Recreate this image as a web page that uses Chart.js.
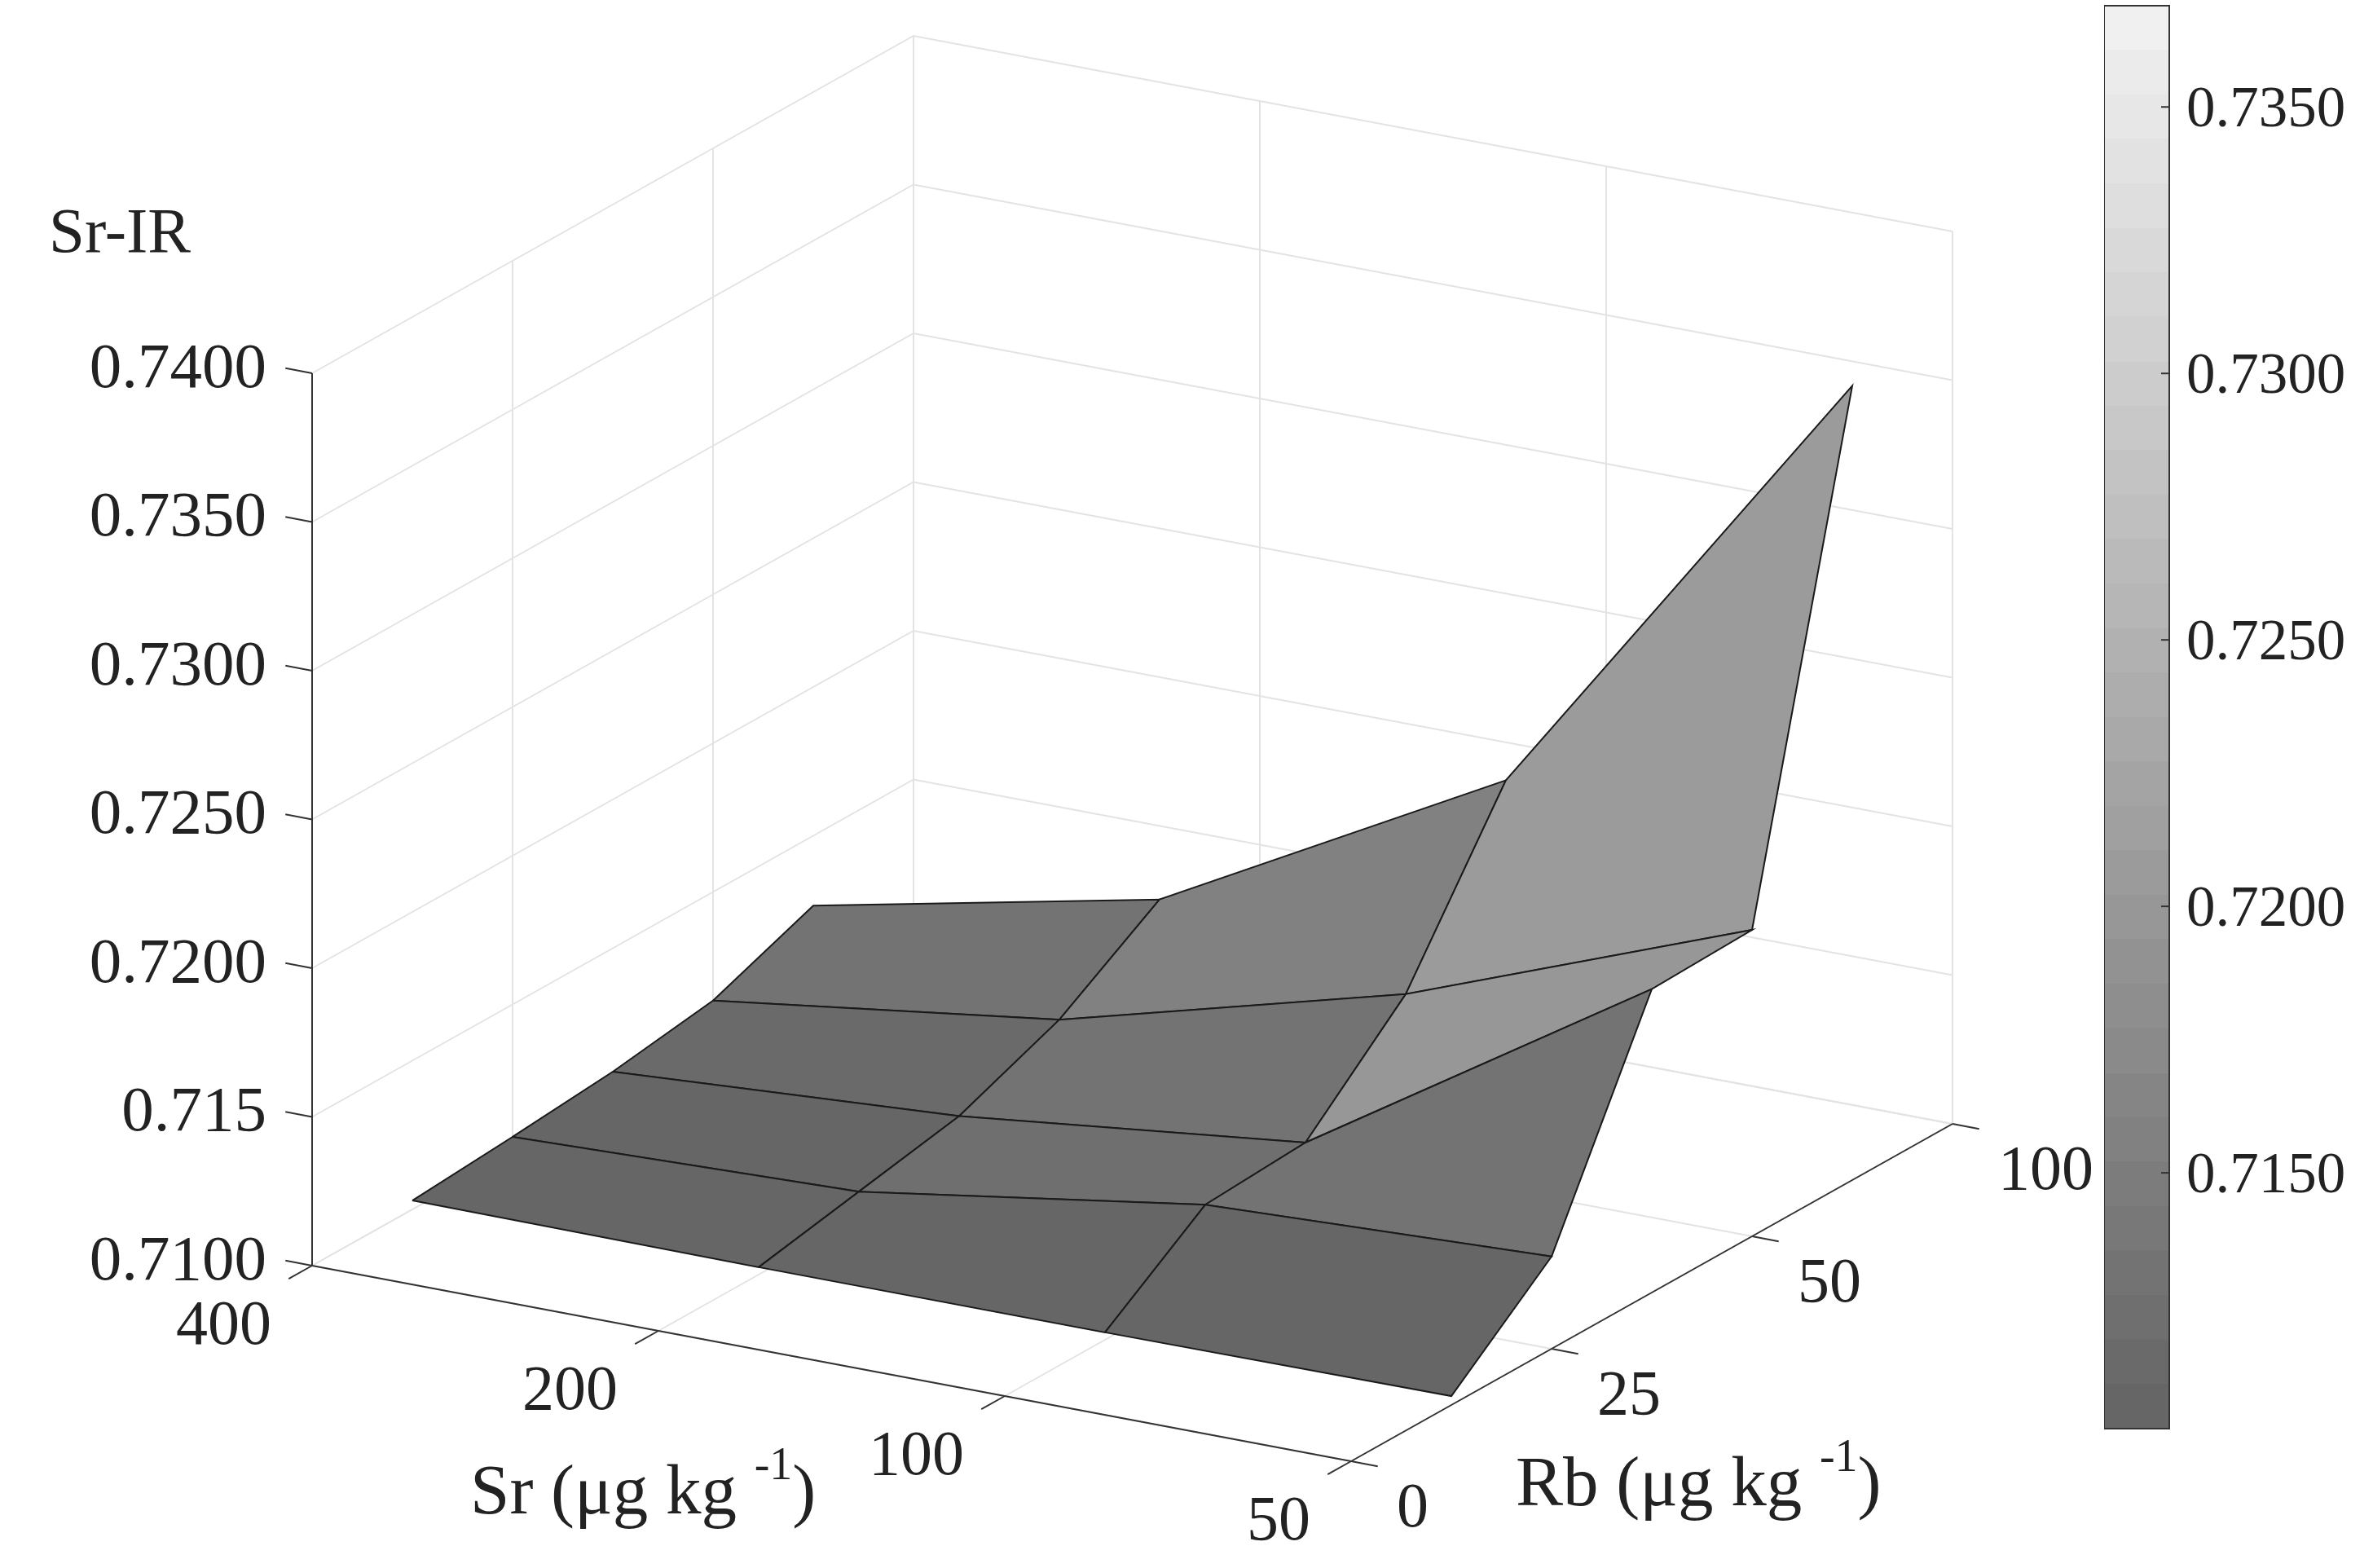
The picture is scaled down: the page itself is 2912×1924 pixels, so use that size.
<!DOCTYPE html>
<html>
<head>
<meta charset="utf-8">
<title>Sr-IR surface</title>
<script src="https://cdn.jsdelivr.net/npm/chart.js@4/dist/chart.umd.min.js"></script>
<style>
  html, body { margin: 0; padding: 0; background: #fff; }
  canvas { position: absolute; top: 0; }
  #surface { left: 0; }
  #colorbar { left: 2582px; }
</style>
</head>
<body>
<canvas id="surface" width="2912" height="1924"></canvas>
<canvas id="colorbar" width="330" height="1924"></canvas>
<script>
// data
const srLabels = ['400', '200', '100', '50'];
const rbLabels = ['0', '25', '50', '100'];
const zTicks = [0.71, 0.715, 0.72, 0.725, 0.73, 0.735, 0.74];
const zLabels = ['0.7100', '0.715', '0.7200', '0.7250', '0.7300', '0.7350', '0.7400'];
const rbSamples = [0.5, 1, 1.5, 2, 2.5]; // surface rows sit between the Rb ticks
const srRow400 = [0.7103, 0.71055, 0.71085, 0.71135, 0.71265];
const srRow200 = [0.71025, 0.7109, 0.71155, 0.7129, 0.71505];
const srRow100 = [0.71025, 0.71265, 0.71285, 0.71595, 0.72125];
const srRow50 = [0.7103, 0.7131, 0.7202, 0.7203, 0.7367];
const cbTicks = [0.715, 0.72, 0.725, 0.73, 0.735];
const cbMin = 0.7102;
const cbMax = 0.7369;
const grayLevels = [102, 106, 111, 115, 120, 124, 129, 133, 138, 142, 146, 151, 155, 160, 164, 169,
  173, 177, 182, 186, 191, 195, 200, 204, 209, 213, 217, 222, 226, 231, 235, 240];

const zGrid = [srRow400, srRow200, srRow100, srRow50];
const serif = 'Liberation Serif';
const inkColor = '#222222';
const gridColor = '#e3e3e3';

// 3D view: sr and rb are tick indexes, z is the real value
function project(sr, rb, z) {
  return {
    x: 383 + 425 * sr + 246 * rb,
    y: 1553 + 80 * sr - 138 * rb - (z - 0.71) * 36500
  };
}

function grayFor(z) {
  let k = Math.floor((z - cbMin) / (cbMax - cbMin) * grayLevels.length);
  k = Math.max(0, Math.min(grayLevels.length - 1, k));
  const g = grayLevels[k];
  return `rgb(${g},${g},${g})`;
}

function lineSet(points, color, width) {
  return { data: points, showLine: true, borderColor: color, borderWidth: width, pointRadius: 0, fill: false };
}

const zLow = zTicks[0];
const zHigh = zTicks[zTicks.length - 1];
const last = srLabels.length - 1;
const backToFront = [];

// light walls and floor
zTicks.forEach(z => {
  backToFront.push(lineSet([project(0, 0, z), project(0, last, z), project(last, last, z)], gridColor, 2));
});
srLabels.forEach((s, i) => {
  backToFront.push(lineSet([project(i, 0, zLow), project(i, last, zLow), project(i, last, zHigh)], gridColor, 2));
});
rbLabels.forEach((s, j) => {
  backToFront.push(lineSet([project(last, j, zLow), project(0, j, zLow), project(0, j, zHigh)], gridColor, 2));
});

// dark axes and ticks
backToFront.push(lineSet([project(0, 0, zLow), project(0, 0, zHigh)], '#333333', 2));
backToFront.push(lineSet([project(0, 0, zLow), project(last, 0, zLow)], '#333333', 2));
backToFront.push(lineSet([project(last, 0, zLow), project(last, last, zLow)], '#333333', 2));
zTicks.forEach(z => {
  backToFront.push(lineSet([project(0, 0, z), project(-0.077, 0, z)], '#333333', 2));
});
srLabels.forEach((s, i) => {
  backToFront.push(lineSet([project(i, 0, zLow), project(i, -0.117, zLow)], '#333333', 2));
});
rbLabels.forEach((s, j) => {
  backToFront.push(lineSet([project(last, j, zLow), project(last + 0.077, j, zLow)], '#333333', 2));
});

// surface faces, far ones first. MATLAB flat shading takes the colour from one corner
for (let j = rbSamples.length - 2; j >= 0; j--) {
  for (let i = 0; i < zGrid.length - 1; i++) {
    backToFront.push({
      data: [
        project(i, rbSamples[j], zGrid[i][j]),
        project(i + 1, rbSamples[j], zGrid[i + 1][j]),
        project(i + 1, rbSamples[j + 1], zGrid[i + 1][j + 1]),
        project(i, rbSamples[j + 1], zGrid[i][j + 1]),
        project(i, rbSamples[j], zGrid[i][j])
      ],
      showLine: true,
      fill: 'shape',
      backgroundColor: grayFor(zGrid[i + 1][j]),
      borderColor: '#1a1a1a',
      borderWidth: 2,
      pointRadius: 0
    });
  }
}

// chart.js paints the first dataset on top
const surfaceSets = backToFront.slice().reverse();

function drawRuns(ctx, runs, x, y) {
  // runs of text with their own size and rise, for the superscripts
  let penX = x;
  runs.forEach(r => {
    ctx.font = `${r.size}px "${serif}"`;
    ctx.fillText(r.text, penX, y - (r.rise || 0));
    penX += ctx.measureText(r.text).width;
  });
}

const axisText = {
  id: 'axisText',
  afterDatasetsDraw(chart) {
    const ctx = chart.ctx;
    const sx = chart.scales.x;
    const sy = chart.scales.y;
    const at = p => ({ x: sx.getPixelForValue(p.x), y: sy.getPixelForValue(p.y) });
    ctx.save();
    ctx.fillStyle = inkColor;
    ctx.textBaseline = 'middle';
    ctx.font = `79px "${serif}"`;

    ctx.textAlign = 'right';
    zTicks.forEach((z, k) => {
      const p = at(project(0, 0, z));
      ctx.fillText(zLabels[k], p.x - 56, p.y - 4);
    });

    ctx.font = `78px "${serif}"`;
    srLabels.forEach((s, i) => {
      const p = at(project(i, 0, zLow));
      ctx.fillText(s, p.x - 50, p.y + 76);
    });

    ctx.textAlign = 'left';
    rbLabels.forEach((s, j) => {
      const p = at(project(last, j, zLow));
      ctx.fillText(s, p.x + 56, p.y + 60);
    });

    ctx.textBaseline = 'alphabetic';
    ctx.font = `79px "${serif}"`;
    ctx.fillText('Sr-IR', 60, 309);
    drawRuns(ctx, [
      { text: 'Sr (μg kg ', size: 87 },
      { text: '-1', size: 56, rise: 42 },
      { text: ')', size: 87 }
    ], 577, 1857);
    drawRuns(ctx, [
      { text: 'Rb (μg kg ', size: 87 },
      { text: '-1', size: 56, rise: 42 },
      { text: ')', size: 87 }
    ], 1860, 1847);
    ctx.restore();
  }
};

new Chart(document.getElementById('surface').getContext('2d'), {
  type: 'scatter',
  data: { datasets: surfaceSets },
  options: {
    responsive: false,
    animation: false,
    devicePixelRatio: 1,
    events: [],
    layout: { padding: 0 },
    plugins: { legend: { display: false }, tooltip: { enabled: false } },
    scales: {
      x: { type: 'linear', min: 0, max: 2912, display: false },
      y: { type: 'linear', min: 0, max: 1924, reverse: true, display: false }
    }
  },
  plugins: [axisText]
});

// colorbar
const bandSize = (cbMax - cbMin) / grayLevels.length;
const bandSets = grayLevels.map((g, k) => ({
  data: [[cbMin + k * bandSize, cbMin + (k + 1) * bandSize]],
  backgroundColor: `rgb(${g},${g},${g})`,
  borderWidth: 0,
  barPercentage: 1,
  categoryPercentage: 1,
  grouped: false
}));

const cbFrame = {
  id: 'cbFrame',
  afterDatasetsDraw(chart) {
    const { ctx, chartArea: a } = chart;
    const sy = chart.scales.y;
    ctx.save();
    ctx.strokeStyle = '#333333';
    ctx.lineWidth = 2;
    ctx.strokeRect(a.left, a.top, a.right - a.left, a.bottom - a.top);
    ctx.fillStyle = inkColor;
    ctx.font = `71px "${serif}"`;
    ctx.textAlign = 'left';
    ctx.textBaseline = 'middle';
    cbTicks.forEach(v => {
      const py = sy.getPixelForValue(v);
      ctx.beginPath();
      ctx.moveTo(a.right - 10, py);
      ctx.lineTo(a.right, py);
      ctx.stroke();
      ctx.fillText(v.toFixed(4), a.right + 21, py + 5);
    });
    ctx.restore();
  }
};

new Chart(document.getElementById('colorbar').getContext('2d'), {
  type: 'bar',
  data: { labels: ['Sr-IR'], datasets: bandSets },
  options: {
    responsive: false,
    animation: false,
    devicePixelRatio: 1,
    events: [],
    layout: { padding: { top: 7, bottom: 171, left: 0, right: 0 } },
    plugins: { legend: { display: false }, tooltip: { enabled: false } },
    scales: {
      x: { display: false },
      y: {
        position: 'right',
        min: cbMin,
        max: cbMax,
        afterBuildTicks: scale => { scale.ticks = cbTicks.map(v => ({ value: v })); },
        afterFit: scale => {
          scale.width = 250;
          scale.paddingTop = 0;
          scale.paddingBottom = 0;
        },
        border: { display: false },
        grid: { display: false },
        ticks: { display: false }
      }
    }
  },
  plugins: [cbFrame]
});
</script>
</body>
</html>
